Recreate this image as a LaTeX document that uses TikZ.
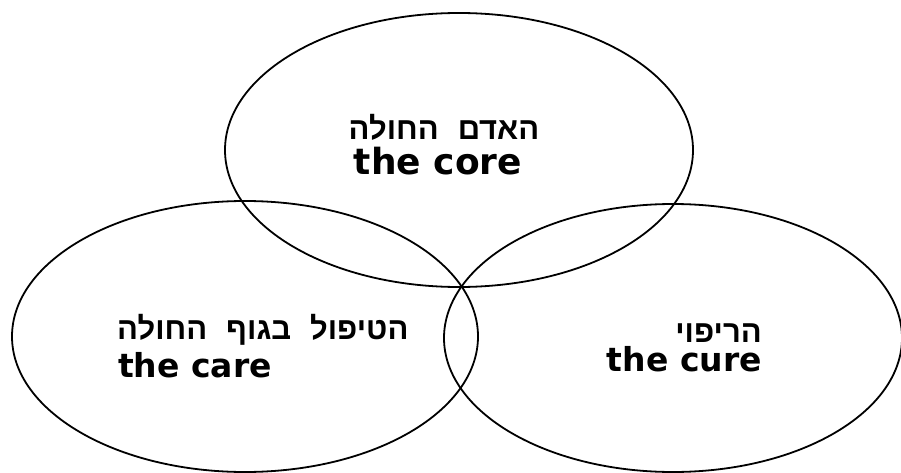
\documentclass[tikz,border=0pt]{standalone}
\usepackage{fontspec}
\TeXXeTstate=1
\newfontfamily\hebfont[Script=Hebrew,WordSpace=2.2]{Liberation Sans Bold}
\newfontfamily\engfont{DejaVu Sans Bold}
\tikzset{
  ring/.style={draw=black, line width=1.8pt},
  heb/.style={inner sep=0pt, text depth=0pt, text height=18pt, font=\hebfont\fontsize{31}{31}\selectfont},
  eng/.style={inner sep=0pt, text height=20pt, font=\engfont\fontsize{33}{33}\selectfont},
  engbig/.style={inner sep=0pt, text height=22pt, font=\engfont\fontsize{36}{36}\selectfont}
}
\begin{document}
\begin{tikzpicture}[x=1pt,y=-1pt]
\useasboundingbox[fill=white] (0,0) rectangle (901,473);
% circles
\draw[ring] (459,150) ellipse [x radius=234pt, y radius=137pt];
\draw[ring] (245,336.5) ellipse [x radius=233pt, y radius=135.5pt];
\draw[ring] (673,338) ellipse [x radius=229pt, y radius=134pt];
% texts
\node[heb, anchor=base] (coreH) at (444,140) {\beginR האדם החולה\endR};
\node[engbig, anchor=base] (coreE) at (438,175) {the core};
\node[heb, anchor=base west] (careH) at (117,339) {\beginR הטיפול בגוף החולה\endR};
\node[eng, anchor=base west] (careE) at (118,377) {the care};
\node[heb, anchor=base east] (cureH) at (762,342) {\beginR הריפוי\endR};
\node[eng, anchor=base east] (cureE) at (762,371) {the cure};
\end{tikzpicture}
\end{document}
